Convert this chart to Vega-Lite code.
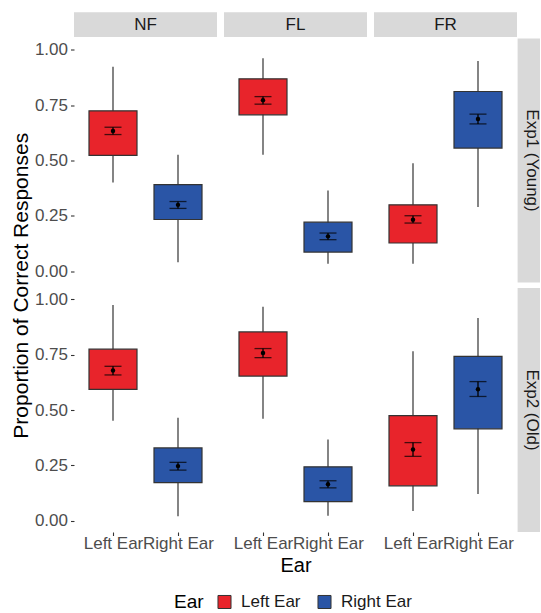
{
  "$schema": "https://vega.github.io/schema/vega-lite/v6.json",
  "padding": {"left": 10, "top": 8, "right": 0, "bottom": 0},
  "autosize": {"type": "pad"},
  "datasets": {
    "stats": [
      {"Exp": "Exp1", "Cond": "NF", "Ear": "Left Ear", "lower": 0.401, "q1": 0.523, "q3": 0.724, "upper": 0.923, "mean": 0.633, "se_lo": 0.617, "se_hi": 0.650},
      {"Exp": "Exp1", "Cond": "NF", "Ear": "Right Ear", "lower": 0.041, "q1": 0.234, "q3": 0.391, "upper": 0.526, "mean": 0.300, "se_lo": 0.284, "se_hi": 0.315},
      {"Exp": "Exp1", "Cond": "FL", "Ear": "Left Ear", "lower": 0.526, "q1": 0.706, "q3": 0.868, "upper": 0.961, "mean": 0.772, "se_lo": 0.754, "se_hi": 0.788},
      {"Exp": "Exp1", "Cond": "FL", "Ear": "Right Ear", "lower": 0.035, "q1": 0.087, "q3": 0.222, "upper": 0.365, "mean": 0.158, "se_lo": 0.143, "se_hi": 0.173},
      {"Exp": "Exp1", "Cond": "FR", "Ear": "Left Ear", "lower": 0.035, "q1": 0.128, "q3": 0.300, "upper": 0.488, "mean": 0.233, "se_lo": 0.218, "se_hi": 0.251},
      {"Exp": "Exp1", "Cond": "FR", "Ear": "Right Ear", "lower": 0.290, "q1": 0.556, "q3": 0.811, "upper": 0.949, "mean": 0.687, "se_lo": 0.665, "se_hi": 0.709},
      {"Exp": "Exp2", "Cond": "NF", "Ear": "Left Ear", "lower": 0.452, "q1": 0.593, "q3": 0.774, "upper": 0.973, "mean": 0.678, "se_lo": 0.658, "se_hi": 0.697},
      {"Exp": "Exp2", "Cond": "NF", "Ear": "Right Ear", "lower": 0.021, "q1": 0.173, "q3": 0.329, "upper": 0.465, "mean": 0.247, "se_lo": 0.229, "se_hi": 0.264},
      {"Exp": "Exp2", "Cond": "FL", "Ear": "Left Ear", "lower": 0.460, "q1": 0.653, "q3": 0.852, "upper": 0.965, "mean": 0.757, "se_lo": 0.736, "se_hi": 0.777},
      {"Exp": "Exp2", "Cond": "FL", "Ear": "Right Ear", "lower": 0.023, "q1": 0.087, "q3": 0.244, "upper": 0.367, "mean": 0.165, "se_lo": 0.149, "se_hi": 0.181},
      {"Exp": "Exp2", "Cond": "FR", "Ear": "Left Ear", "lower": 0.045, "q1": 0.158, "q3": 0.475, "upper": 0.765, "mean": 0.322, "se_lo": 0.291, "se_hi": 0.353},
      {"Exp": "Exp2", "Cond": "FR", "Ear": "Right Ear", "lower": 0.121, "q1": 0.415, "q3": 0.742, "upper": 0.915, "mean": 0.594, "se_lo": 0.561, "se_hi": 0.628}
    ]
  },
  "columns": 4,
  "spacing": {"row": 5.5, "column": 7},
  "bounds": "flush",
  "align": "each",
  "resolve": {"scale": {"x": "independent", "y": "independent", "fill": "shared"}, "legend": {"fill": "shared"}},
  "concat": [
    {"width": 143, "height": 25, "data": {"values": [{"label": "NF"}]}, "layer": [
      {"mark": {"type": "rect", "color": "#d9d9d9"}, "encoding": {"x": {"datum": 0, "type": "quantitative", "scale": {"domain": [0, 1], "nice": false, "zero": false}, "axis": null}, "x2": {"datum": 1}, "y": {"datum": 0.828, "type": "quantitative", "scale": {"domain": [0, 1], "nice": false, "zero": false}, "axis": null}, "y2": {"datum": -0.16}}},
      {"mark": {"type": "text", "fontSize": 17, "color": "#1a1a1a", "baseline": "middle", "align": "center"}, "encoding": {"x": {"datum": 0.5, "type": "quantitative"}, "y": {"datum": 0.332, "type": "quantitative"}, "text": {"field": "label"}}}
    ]},
    {"width": 143, "height": 25, "data": {"values": [{"label": "FL"}]}, "layer": [
      {"mark": {"type": "rect", "color": "#d9d9d9"}, "encoding": {"x": {"datum": 0, "type": "quantitative", "scale": {"domain": [0, 1], "nice": false, "zero": false}, "axis": null}, "x2": {"datum": 1}, "y": {"datum": 0.828, "type": "quantitative", "scale": {"domain": [0, 1], "nice": false, "zero": false}, "axis": null}, "y2": {"datum": -0.16}}},
      {"mark": {"type": "text", "fontSize": 17, "color": "#1a1a1a", "baseline": "middle", "align": "center"}, "encoding": {"x": {"datum": 0.5, "type": "quantitative"}, "y": {"datum": 0.332, "type": "quantitative"}, "text": {"field": "label"}}}
    ]},
    {"width": 143, "height": 25, "data": {"values": [{"label": "FR"}]}, "layer": [
      {"mark": {"type": "rect", "color": "#d9d9d9"}, "encoding": {"x": {"datum": 0, "type": "quantitative", "scale": {"domain": [0, 1], "nice": false, "zero": false}, "axis": null}, "x2": {"datum": 1}, "y": {"datum": 0.828, "type": "quantitative", "scale": {"domain": [0, 1], "nice": false, "zero": false}, "axis": null}, "y2": {"datum": -0.16}}},
      {"mark": {"type": "text", "fontSize": 17, "color": "#1a1a1a", "baseline": "middle", "align": "center"}, "encoding": {"x": {"datum": 0.5, "type": "quantitative"}, "y": {"datum": 0.332, "type": "quantitative"}, "text": {"field": "label"}}}
    ]},
    {"width": 16, "height": 25, "data": {"values": [{}]}, "mark": {"type": "point", "opacity": 0}},

    {"width": 143, "height": 244, "data": {"name": "stats"}, "transform": [{"filter": "datum.Exp == 'Exp1' && datum.Cond == 'NF'"}],
     "encoding": {"x": {"field": "Ear", "type": "nominal", "scale": {"type": "point", "padding": 0.6}, "axis": null}},
     "layer": [
      {"mark": {"type": "rule", "color": "#333333", "strokeWidth": 1.2}, "encoding": {"y": {"field": "lower", "type": "quantitative", "scale": {"domain": [-0.05, 1.05], "nice": false, "zero": false}, "axis": {"title": "Proportion of Correct Responses", "titleY": 246.75, "titlePadding": 3, "values": [0, 0.25, 0.5, 0.75, 1], "format": ".2f", "labelPadding": 3}}, "y2": {"field": "upper"}}},
      {"mark": {"type": "bar", "size": 48, "stroke": "#333333", "strokeWidth": 1.2, "opacity": 1}, "encoding": {"y": {"field": "q1", "type": "quantitative", "axis": {"title": "Proportion of Correct Responses", "titleY": 246.75, "titlePadding": 3, "values": [0, 0.25, 0.5, 0.75, 1], "format": ".2f", "labelPadding": 3}}, "y2": {"field": "q3"}, "fill": {"field": "Ear", "type": "nominal", "title": "Ear", "scale": {"domain": ["Left Ear", "Right Ear"], "range": ["#E8242B", "#2A55A6"]}}}},
      {"mark": {"type": "rule", "color": "black", "strokeWidth": 1.3}, "encoding": {"y": {"field": "se_lo", "type": "quantitative", "axis": {"title": "Proportion of Correct Responses", "titleY": 246.75, "titlePadding": 3, "values": [0, 0.25, 0.5, 0.75, 1], "format": ".2f", "labelPadding": 3}}, "y2": {"field": "se_hi"}}},
      {"mark": {"type": "tick", "color": "black", "size": 17, "thickness": 1.3}, "encoding": {"y": {"field": "se_lo", "type": "quantitative", "axis": {"title": "Proportion of Correct Responses", "titleY": 246.75, "titlePadding": 3, "values": [0, 0.25, 0.5, 0.75, 1], "format": ".2f", "labelPadding": 3}}}},
      {"mark": {"type": "tick", "color": "black", "size": 17, "thickness": 1.3}, "encoding": {"y": {"field": "se_hi", "type": "quantitative", "axis": {"title": "Proportion of Correct Responses", "titleY": 246.75, "titlePadding": 3, "values": [0, 0.25, 0.5, 0.75, 1], "format": ".2f", "labelPadding": 3}}}},
      {"mark": {"type": "point", "filled": true, "color": "black", "size": 20, "opacity": 1}, "encoding": {"y": {"field": "mean", "type": "quantitative", "axis": {"title": "Proportion of Correct Responses", "titleY": 246.75, "titlePadding": 3, "values": [0, 0.25, 0.5, 0.75, 1], "format": ".2f", "labelPadding": 3}}}}
    ]},
    {"width": 143, "height": 244, "data": {"name": "stats"}, "transform": [{"filter": "datum.Exp == 'Exp1' && datum.Cond == 'FL'"}],
     "encoding": {"x": {"field": "Ear", "type": "nominal", "scale": {"type": "point", "padding": 0.6}, "axis": null}},
     "layer": [
      {"mark": {"type": "rule", "color": "#333333", "strokeWidth": 1.2}, "encoding": {"y": {"field": "lower", "type": "quantitative", "scale": {"domain": [-0.05, 1.05], "nice": false, "zero": false}, "axis": null}, "y2": {"field": "upper"}}},
      {"mark": {"type": "bar", "size": 48, "stroke": "#333333", "strokeWidth": 1.2, "opacity": 1}, "encoding": {"y": {"field": "q1", "type": "quantitative", "axis": null}, "y2": {"field": "q3"}, "fill": {"field": "Ear", "type": "nominal", "title": "Ear", "scale": {"domain": ["Left Ear", "Right Ear"], "range": ["#E8242B", "#2A55A6"]}}}},
      {"mark": {"type": "rule", "color": "black", "strokeWidth": 1.3}, "encoding": {"y": {"field": "se_lo", "type": "quantitative", "axis": null}, "y2": {"field": "se_hi"}}},
      {"mark": {"type": "tick", "color": "black", "size": 17, "thickness": 1.3}, "encoding": {"y": {"field": "se_lo", "type": "quantitative", "axis": null}}},
      {"mark": {"type": "tick", "color": "black", "size": 17, "thickness": 1.3}, "encoding": {"y": {"field": "se_hi", "type": "quantitative", "axis": null}}},
      {"mark": {"type": "point", "filled": true, "color": "black", "size": 20, "opacity": 1}, "encoding": {"y": {"field": "mean", "type": "quantitative", "axis": null}}}
    ]},
    {"width": 143, "height": 244, "data": {"name": "stats"}, "transform": [{"filter": "datum.Exp == 'Exp1' && datum.Cond == 'FR'"}],
     "encoding": {"x": {"field": "Ear", "type": "nominal", "scale": {"type": "point", "padding": 0.6}, "axis": null}},
     "layer": [
      {"mark": {"type": "rule", "color": "#333333", "strokeWidth": 1.2}, "encoding": {"y": {"field": "lower", "type": "quantitative", "scale": {"domain": [-0.05, 1.05], "nice": false, "zero": false}, "axis": null}, "y2": {"field": "upper"}}},
      {"mark": {"type": "bar", "size": 48, "stroke": "#333333", "strokeWidth": 1.2, "opacity": 1}, "encoding": {"y": {"field": "q1", "type": "quantitative", "axis": null}, "y2": {"field": "q3"}, "fill": {"field": "Ear", "type": "nominal", "title": "Ear", "scale": {"domain": ["Left Ear", "Right Ear"], "range": ["#E8242B", "#2A55A6"]}}}},
      {"mark": {"type": "rule", "color": "black", "strokeWidth": 1.3}, "encoding": {"y": {"field": "se_lo", "type": "quantitative", "axis": null}, "y2": {"field": "se_hi"}}},
      {"mark": {"type": "tick", "color": "black", "size": 17, "thickness": 1.3}, "encoding": {"y": {"field": "se_lo", "type": "quantitative", "axis": null}}},
      {"mark": {"type": "tick", "color": "black", "size": 17, "thickness": 1.3}, "encoding": {"y": {"field": "se_hi", "type": "quantitative", "axis": null}}},
      {"mark": {"type": "point", "filled": true, "color": "black", "size": 20, "opacity": 1}, "encoding": {"y": {"field": "mean", "type": "quantitative", "axis": null}}}
    ]},
    {"width": 16, "height": 244, "data": {"values": [{"label": "Exp1 (Young)"}]}, "layer": [
      {"mark": {"type": "rect", "color": "#d9d9d9"}, "encoding": {"x": {"datum": -0.4, "type": "quantitative", "scale": {"domain": [0, 1], "nice": false, "zero": false}, "axis": null}, "x2": {"datum": 1}, "y": {"datum": 0, "type": "quantitative", "scale": {"domain": [0, 1], "nice": false, "zero": false}, "axis": null}, "y2": {"datum": 1}}},
      {"mark": {"type": "text", "fontSize": 17, "color": "#1a1a1a", "baseline": "middle", "align": "center", "angle": 90}, "encoding": {"x": {"datum": 0.5, "type": "quantitative"}, "y": {"datum": 0.5, "type": "quantitative"}, "text": {"field": "label"}}}
    ]},

    {"width": 143, "height": 244, "data": {"name": "stats"}, "transform": [{"filter": "datum.Exp == 'Exp2' && datum.Cond == 'NF'"}],
     "encoding": {"x": {"field": "Ear", "type": "nominal", "scale": {"type": "point", "padding": 0.6}, "axis": {"title": null, "labelAngle": 0, "labelPadding": 0, "labelOverlap": false, "labelBound": false, "labelFlush": false}}},
     "layer": [
      {"mark": {"type": "rule", "color": "#333333", "strokeWidth": 1.2}, "encoding": {"y": {"field": "lower", "type": "quantitative", "scale": {"domain": [-0.05, 1.05], "nice": false, "zero": false}, "axis": {"title": null, "values": [0, 0.25, 0.5, 0.75, 1], "format": ".2f", "labelPadding": 3}}, "y2": {"field": "upper"}}},
      {"mark": {"type": "bar", "size": 48, "stroke": "#333333", "strokeWidth": 1.2, "opacity": 1}, "encoding": {"y": {"field": "q1", "type": "quantitative", "axis": {"title": null, "values": [0, 0.25, 0.5, 0.75, 1], "format": ".2f", "labelPadding": 3}}, "y2": {"field": "q3"}, "fill": {"field": "Ear", "type": "nominal", "title": "Ear", "scale": {"domain": ["Left Ear", "Right Ear"], "range": ["#E8242B", "#2A55A6"]}}}},
      {"mark": {"type": "rule", "color": "black", "strokeWidth": 1.3}, "encoding": {"y": {"field": "se_lo", "type": "quantitative", "axis": {"title": null, "values": [0, 0.25, 0.5, 0.75, 1], "format": ".2f", "labelPadding": 3}}, "y2": {"field": "se_hi"}}},
      {"mark": {"type": "tick", "color": "black", "size": 17, "thickness": 1.3}, "encoding": {"y": {"field": "se_lo", "type": "quantitative", "axis": {"title": null, "values": [0, 0.25, 0.5, 0.75, 1], "format": ".2f", "labelPadding": 3}}}},
      {"mark": {"type": "tick", "color": "black", "size": 17, "thickness": 1.3}, "encoding": {"y": {"field": "se_hi", "type": "quantitative", "axis": {"title": null, "values": [0, 0.25, 0.5, 0.75, 1], "format": ".2f", "labelPadding": 3}}}},
      {"mark": {"type": "point", "filled": true, "color": "black", "size": 20, "opacity": 1}, "encoding": {"y": {"field": "mean", "type": "quantitative", "axis": {"title": null, "values": [0, 0.25, 0.5, 0.75, 1], "format": ".2f", "labelPadding": 3}}}}
    ]},
    {"width": 143, "height": 244, "data": {"name": "stats"}, "transform": [{"filter": "datum.Exp == 'Exp2' && datum.Cond == 'FL'"}],
     "encoding": {"x": {"field": "Ear", "type": "nominal", "scale": {"type": "point", "padding": 0.6}, "axis": {"title": "Ear", "titleFontSize": 20, "titlePadding": 4, "labelAngle": 0, "labelPadding": 0, "labelOverlap": false, "labelBound": false, "labelFlush": false}}},
     "layer": [
      {"mark": {"type": "rule", "color": "#333333", "strokeWidth": 1.2}, "encoding": {"y": {"field": "lower", "type": "quantitative", "scale": {"domain": [-0.05, 1.05], "nice": false, "zero": false}, "axis": null}, "y2": {"field": "upper"}}},
      {"mark": {"type": "bar", "size": 48, "stroke": "#333333", "strokeWidth": 1.2, "opacity": 1}, "encoding": {"y": {"field": "q1", "type": "quantitative", "axis": null}, "y2": {"field": "q3"}, "fill": {"field": "Ear", "type": "nominal", "title": "Ear", "scale": {"domain": ["Left Ear", "Right Ear"], "range": ["#E8242B", "#2A55A6"]}}}},
      {"mark": {"type": "rule", "color": "black", "strokeWidth": 1.3}, "encoding": {"y": {"field": "se_lo", "type": "quantitative", "axis": null}, "y2": {"field": "se_hi"}}},
      {"mark": {"type": "tick", "color": "black", "size": 17, "thickness": 1.3}, "encoding": {"y": {"field": "se_lo", "type": "quantitative", "axis": null}}},
      {"mark": {"type": "tick", "color": "black", "size": 17, "thickness": 1.3}, "encoding": {"y": {"field": "se_hi", "type": "quantitative", "axis": null}}},
      {"mark": {"type": "point", "filled": true, "color": "black", "size": 20, "opacity": 1}, "encoding": {"y": {"field": "mean", "type": "quantitative", "axis": null}}}
    ]},
    {"width": 143, "height": 244, "data": {"name": "stats"}, "transform": [{"filter": "datum.Exp == 'Exp2' && datum.Cond == 'FR'"}],
     "encoding": {"x": {"field": "Ear", "type": "nominal", "scale": {"type": "point", "padding": 0.6}, "axis": {"title": null, "labelAngle": 0, "labelPadding": 0, "labelOverlap": false, "labelBound": false, "labelFlush": false}}},
     "layer": [
      {"mark": {"type": "rule", "color": "#333333", "strokeWidth": 1.2}, "encoding": {"y": {"field": "lower", "type": "quantitative", "scale": {"domain": [-0.05, 1.05], "nice": false, "zero": false}, "axis": null}, "y2": {"field": "upper"}}},
      {"mark": {"type": "bar", "size": 48, "stroke": "#333333", "strokeWidth": 1.2, "opacity": 1}, "encoding": {"y": {"field": "q1", "type": "quantitative", "axis": null}, "y2": {"field": "q3"}, "fill": {"field": "Ear", "type": "nominal", "title": "Ear", "scale": {"domain": ["Left Ear", "Right Ear"], "range": ["#E8242B", "#2A55A6"]}}}},
      {"mark": {"type": "rule", "color": "black", "strokeWidth": 1.3}, "encoding": {"y": {"field": "se_lo", "type": "quantitative", "axis": null}, "y2": {"field": "se_hi"}}},
      {"mark": {"type": "tick", "color": "black", "size": 17, "thickness": 1.3}, "encoding": {"y": {"field": "se_lo", "type": "quantitative", "axis": null}}},
      {"mark": {"type": "tick", "color": "black", "size": 17, "thickness": 1.3}, "encoding": {"y": {"field": "se_hi", "type": "quantitative", "axis": null}}},
      {"mark": {"type": "point", "filled": true, "color": "black", "size": 20, "opacity": 1}, "encoding": {"y": {"field": "mean", "type": "quantitative", "axis": null}}}
    ]},
    {"width": 16, "height": 244, "data": {"values": [{"label": "Exp2 (Old)"}]}, "layer": [
      {"mark": {"type": "rect", "color": "#d9d9d9"}, "encoding": {"x": {"datum": -0.4, "type": "quantitative", "scale": {"domain": [0, 1], "nice": false, "zero": false}, "axis": null}, "x2": {"datum": 1}, "y": {"datum": 0, "type": "quantitative", "scale": {"domain": [0, 1], "nice": false, "zero": false}, "axis": null}, "y2": {"datum": 1}}},
      {"mark": {"type": "text", "fontSize": 17, "color": "#1a1a1a", "baseline": "middle", "align": "center", "angle": 90}, "encoding": {"x": {"datum": 0.5, "type": "quantitative"}, "y": {"datum": 0.5, "type": "quantitative"}, "text": {"field": "label"}}}
    ]}
  ],
  "config": {
    "font": "Liberation Sans",
    "view": {"stroke": null},
    "axis": {"domain": false, "grid": false, "ticks": true, "tickColor": "#333333", "tickSize": 3.5, "tickWidth": 1.1, "labelColor": "#4d4d4d", "labelFontSize": 17, "labelFont": "Liberation Sans", "titleFont": "Liberation Sans", "titleFontWeight": "normal", "titleColor": "#000000", "titleFontSize": 21},
    "legend": {"orient": "none", "legendX": 100, "legendY": 585, "direction": "horizontal", "titleOrient": "left", "titleFontSize": 19, "titleFontWeight": "normal", "titleColor": "#000000", "labelFontSize": 17, "labelColor": "#1a1a1a", "symbolType": "square", "symbolSize": 170, "symbolStrokeColor": "#333333", "symbolStrokeWidth": 1, "symbolOpacity": 1, "columnPadding": 14, "labelOffset": 8, "titlePadding": 12}
  }
}
